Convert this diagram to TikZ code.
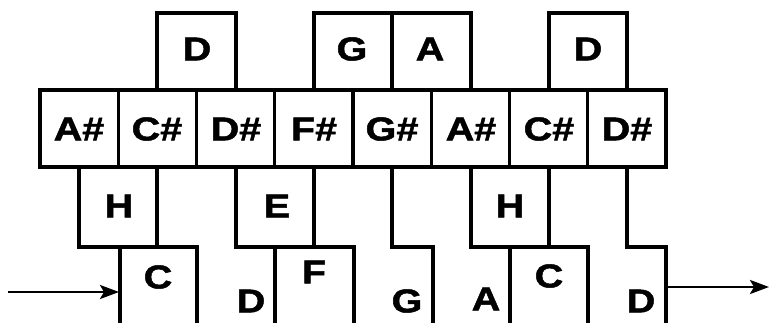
\documentclass[tikz,border=0pt]{standalone}
\usepackage{fontspec}
\setmainfont{Liberation Sans}[FakeStretch=1.2,BoldFeatures={FakeStretch=1.2,FakeBold=1.5}]
\usetikzlibrary{arrows.meta}
\tikzset{
  keyline/.style={line width=3.2pt, line join=miter, line cap=rect},
  lab/.style={font=\fontsize{33}{35}\selectfont\bfseries, inner sep=0pt},
  arr/.style={line width=2.6pt, -{Stealth[length=19pt,width=14pt,inset=4pt]}}
}
\begin{document}
\begin{tikzpicture}[x=1pt,y=-1pt]
\useasboundingbox (0,0) rectangle (769,322);
% top row
\draw[keyline] (157,13) rectangle (236,90);
\draw[keyline] (314,13) rectangle (392,90);
\draw[keyline] (392,13) rectangle (471,90);
\draw[keyline] (549,13) rectangle (627,90);
% middle row
\foreach \i in {0,...,7}{
  \draw[keyline] ({40+78.25*\i},90) rectangle ({40+78.25*(\i+1)},167);
}
% third row
\draw[keyline] (79,167) -- (79,247) -- (197,247);
\draw[keyline] (157,167) -- (157,247);
\draw[keyline] (236,167) -- (236,247) -- (354,247);
\draw[keyline] (314,167) -- (314,247);
\draw[keyline] (392,167) -- (392,247) -- (433,247) -- (433,322);
\draw[keyline] (471,167) -- (471,247) -- (588,247);
\draw[keyline] (549,167) -- (549,247);
\draw[keyline] (627,167) -- (627,247) -- (666,247) -- (666,322);
% bottom row separators
\foreach \x in {120,197,275,354,510,588}{
  \draw[keyline] (\x,247) -- (\x,322);
}
% labels
\node[lab] (t1) at (197,49) {D};
\node[lab] (t2) at (352,49) {G};
\node[lab] (t3) at (430,49) {A};
\node[lab] (t4) at (588,49) {D};
\node[lab] (m1) at (79,129) {A\#};
\node[lab] (m2) at (157,129) {C\#};
\node[lab] (m3) at (236,129) {D\#};
\node[lab] (m4) at (314,129) {F\#};
\node[lab] (m5) at (392,129) {G\#};
\node[lab] (m6) at (471,129) {A\#};
\node[lab] (m7) at (549,129) {C\#};
\node[lab] (m8) at (627,129) {D\#};
\node[lab] (r1) at (119,206) {H};
\node[lab] (r2) at (277,206) {E};
\node[lab] (r3) at (510,206) {H};
\node[lab] (b1) at (158,277) {C};
\node[lab] (b2) at (251,301) {D};
\node[lab] (b3) at (314,272) {F};
\node[lab] (b4) at (407,301) {G};
\node[lab] (b5) at (486,299) {A};
\node[lab] (b6) at (549,276) {C};
\node[lab] (b7) at (641,301) {D};
% arrows
\coordinate (inS) at (8,292);
\coordinate (inE) at (119,292);
\coordinate (outS) at (667,287);
\coordinate (outE) at (769,287);
\draw[arr] (inS) -- (inE);
\draw[arr] (outS) -- (outE);
\end{tikzpicture}
\end{document}
